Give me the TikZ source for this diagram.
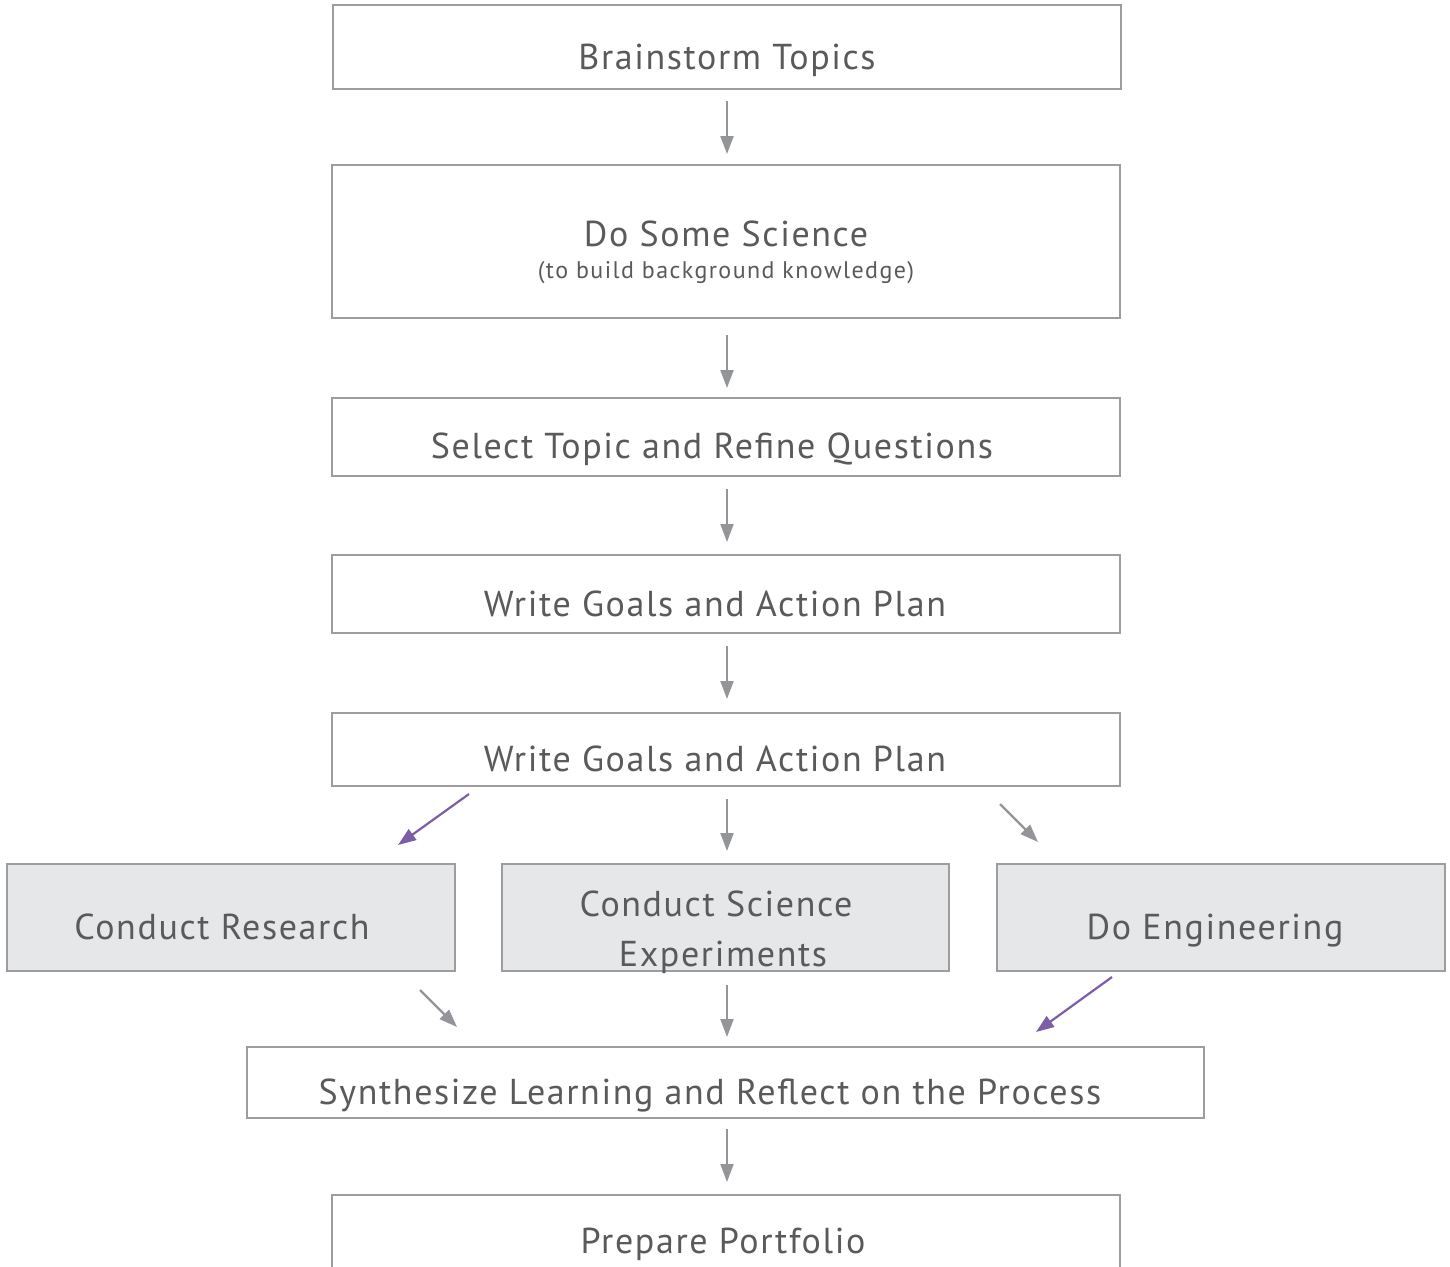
\documentclass[tikz,border=0pt]{standalone}
\usepackage{fontspec}
\setmainfont{PT Sans}
\newfontfamily\lblfont[LetterSpace=4.5]{PT Sans}
\newfontfamily\subfont[LetterSpace=6]{PT Sans}
\usetikzlibrary{arrows.meta}
\definecolor{boxline}{HTML}{9D9D9F}
\definecolor{txt}{HTML}{5A5A5C}
\definecolor{shade}{HTML}{E6E7E8}
\definecolor{arrgray}{HTML}{939598}
\definecolor{arrpurple}{HTML}{7B5EA7}
\tikzset{
  box/.style={draw=boxline, line width=2.5pt, fill=white},
  shadebox/.style={draw=boxline, line width=2.5pt, fill=shade},
  lbl/.style={text=txt, font=\lblfont\fontsize{36}{42}\selectfont, inner sep=0pt, anchor=base},
  sublbl/.style={text=txt, font=\subfont\fontsize{24}{28}\selectfont, inner sep=0pt, anchor=base},
  garrow/.style={draw=arrgray, line width=2.2pt, -{Triangle[length=18pt,width=13pt]}},
  parrow/.style={draw=arrpurple, line width=2.2pt, -{Triangle[length=18pt,width=13pt]}},
}
\begin{document}
\begin{tikzpicture}[x=1pt,y=-1pt]
\useasboundingbox (0,0) rectangle (1450,1266);
\clip (0,0) rectangle (1450,1266);
% boxes
\path[box] (333,5) rectangle (1121,89);
\path[box] (332,165) rectangle (1120,318);
\path[box] (332,398) rectangle (1120,476);
\path[box] (332,555) rectangle (1120,633);
\path[box] (332,713) rectangle (1120,786);
\path[shadebox] (7,864) rectangle (455,971);
\path[shadebox] (502,864) rectangle (949,971);
\path[shadebox] (997,864) rectangle (1445,971);
\path[box] (247,1047) rectangle (1204,1118);
\path[box] (332,1195) rectangle (1120,1290);
% labels
\node[lbl] (t1) at (727,69) {Brainstorm Topics};
\node[lbl] (t2) at (726,246) {Do Some Science};
\node[sublbl] (t2s) at (726,278) {(to build background knowledge)};
\node[lbl] (t3) at (712,458) {Select Topic and Refine Questions};
\node[lbl] (t4) at (715,616) {Write Goals and Action Plan};
\node[lbl] (t5) at (715,771) {Write Goals and Action Plan};
\node[lbl] (t6) at (222,939) {Conduct Research};
\node[lbl] (t7a) at (716,916) {Conduct Science};
\node[lbl] (t7b) at (723,966) {Experiments};
\node[lbl] (t8) at (1215,939) {Do Engineering};
\node[lbl] (t9) at (710,1104) {Synthesize Learning and Reflect on the Process};
\node[lbl] (t10) at (723,1253) {Prepare Portfolio};
% arrow ends
\coordinate (a1s) at (727,101); \coordinate (a1e) at (727,154);
\coordinate (a2s) at (727,335); \coordinate (a2e) at (727,388);
\coordinate (a3s) at (727,489); \coordinate (a3e) at (727,542);
\coordinate (a4s) at (727,646); \coordinate (a4e) at (727,699);
\coordinate (a5s) at (469,794); \coordinate (a5e) at (398,845);
\coordinate (a6s) at (727,799); \coordinate (a6e) at (727,851);
\coordinate (a7s) at (1000,804); \coordinate (a7e) at (1038,842);
\coordinate (a8s) at (420,990); \coordinate (a8e) at (457,1027);
\coordinate (a9s) at (727,985); \coordinate (a9e) at (727,1037);
\coordinate (a10s) at (1112,977); \coordinate (a10e) at (1036,1032);
\coordinate (a11s) at (727,1129); \coordinate (a11e) at (727,1182);
\draw[garrow] (a1s) -- (a1e);
\draw[garrow] (a2s) -- (a2e);
\draw[garrow] (a3s) -- (a3e);
\draw[garrow] (a4s) -- (a4e);
\draw[parrow] (a5s) -- (a5e);
\draw[garrow] (a6s) -- (a6e);
\draw[garrow] (a7s) -- (a7e);
\draw[garrow] (a8s) -- (a8e);
\draw[garrow] (a9s) -- (a9e);
\draw[parrow] (a10s) -- (a10e);
\draw[garrow] (a11s) -- (a11e);
\end{tikzpicture}
\end{document}
